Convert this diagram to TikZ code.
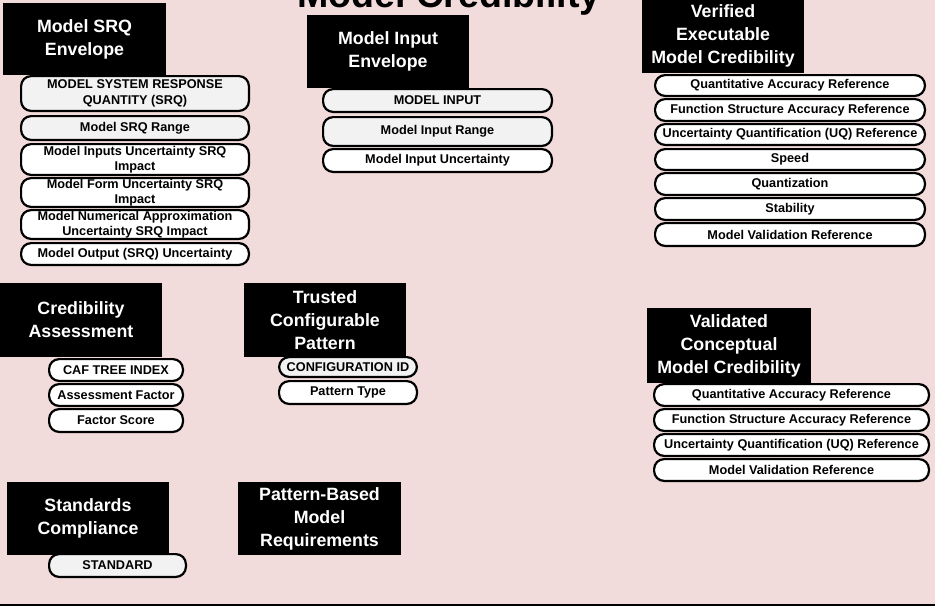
\documentclass[tikz,border=0pt]{standalone}
\usepackage{fontspec}
\setmainfont{Liberation Sans}
\definecolor{bgpink}{HTML}{F2DCDB}
\definecolor{keygray}{HTML}{F2F2F2}
\tikzset{
  hdr/.style={fill=black, text=white, inner sep=0pt, align=center,
    font=\fontsize{17.8}{23}\selectfont\bfseries},
  pill/.style={draw=black, line width=2.2pt, rounded corners=10pt, inner sep=0pt,
    align=center, font=\fontsize{12.7}{15.5}\selectfont\bfseries},
}
% name, x1, x2, y1, y2, text, fill
\newcommand\mypill[7]{%
  \node[pill, fill=#7, minimum width={(#3-#2-2.2)*1pt}, minimum height={(#5-#4-2.2)*1pt}]
    (#1) at ({(#2+#3)/2},{(#4+#5)/2}) {#6};}
% name, x, y, w, h, text
\newcommand\myhdr[6]{%
  \node[hdr, minimum width={#4*1pt}, minimum height={#5*1pt}]
    (#1) at ({#2+#4/2},{#3+#5/2}) {#6};}
\begin{document}
\begin{tikzpicture}[x=1pt,y=-1pt]
\useasboundingbox (0,0) rectangle (935,606);
\fill[bgpink] (0,0) rectangle (935,606);

% title
\node[font=\fontsize{37.6}{40}\selectfont\bfseries, anchor=base, inner sep=0pt] (title) at (449,7) {Model Credibility};

% header boxes
\myhdr{srqH}{3}{3}{163}{72}{Model SRQ\\Envelope}
\myhdr{inH}{307}{15}{162}{73}{Model Input\\Envelope}
\myhdr{verH}{642}{-1}{162}{74}{Verified\\Executable\\Model Credibility}
\myhdr{credH}{0}{283}{162}{74}{Credibility\\Assessment}
\myhdr{trH}{244}{283}{162}{74}{Trusted\\Configurable\\Pattern}
\myhdr{valH}{647}{308}{164}{75}{Validated\\Conceptual\\Model Credibility}
\myhdr{stdH}{7}{482}{162}{73}{Standards\\Compliance}
\myhdr{pbH}{238}{482}{163}{73}{Pattern-Based\\Model\\Requirements}

% Model SRQ Envelope
\mypill{srq1}{20}{250}{75}{112}{MODEL SYSTEM RESPONSE\\QUANTITY (SRQ)}{keygray}
\mypill{srq2}{20}{250}{115}{141}{Model SRQ Range}{keygray}
\mypill{srq3}{20}{250}{143}{176}{Model Inputs Uncertainty SRQ\\Impact}{white}
\mypill{srq4}{20}{250}{177}{208}{Model Form Uncertainty SRQ\\Impact}{white}
\mypill{srq5}{20}{250}{209}{240}{Model Numerical Approximation\\Uncertainty SRQ Impact}{white}
\mypill{srq6}{20}{250}{242}{266}{Model Output (SRQ) Uncertainty}{white}

% Model Input Envelope
\mypill{in1}{322}{553}{88}{113}{MODEL INPUT}{keygray}
\mypill{in2}{322}{553}{116}{147}{Model Input Range}{keygray}
\mypill{in3}{322}{553}{148}{173}{Model Input Uncertainty}{white}

% Verified Executable Model Credibility
\mypill{ver1}{654}{926}{74}{97}{Quantitative Accuracy Reference}{white}
\mypill{ver2}{654}{926}{98}{122}{Function Structure Accuracy Reference}{white}
\mypill{ver3}{654}{926}{123}{146}{Uncertainty Quantification (UQ) Reference}{white}
\mypill{ver4}{654}{926}{148}{171}{Speed}{white}
\mypill{ver5}{654}{926}{172}{196}{Quantization}{white}
\mypill{ver6}{654}{926}{197}{221}{Stability}{white}
\mypill{ver7}{654}{926}{222}{247}{Model Validation Reference}{white}

% Credibility Assessment
\mypill{cred1}{48}{184}{358}{382}{CAF TREE INDEX}{white}
\mypill{cred2}{48}{184}{383}{407}{Assessment Factor}{white}
\mypill{cred3}{48}{184}{408}{433}{Factor Score}{white}

% Trusted Configurable Pattern
\mypill{tr1}{278}{418}{356}{378}{CONFIGURATION ID}{keygray}
\mypill{tr2}{278}{418}{380}{405}{Pattern Type}{white}

% Validated Conceptual Model Credibility
\mypill{val1}{653}{930}{383}{407}{Quantitative Accuracy Reference}{white}
\mypill{val2}{653}{930}{408}{432}{Function Structure Accuracy Reference}{white}
\mypill{val3}{653}{930}{433}{457}{Uncertainty Quantification (UQ) Reference}{white}
\mypill{val4}{653}{930}{458}{482}{Model Validation Reference}{white}

% Standards Compliance
\mypill{std1}{48}{187}{553}{578}{STANDARD}{keygray}

% bottom rule
\coordinate (bl) at (0,604.5);
\coordinate (br) at (935,604.5);
\draw[line width=2pt] (bl) -- (br);
\end{tikzpicture}
\end{document}
